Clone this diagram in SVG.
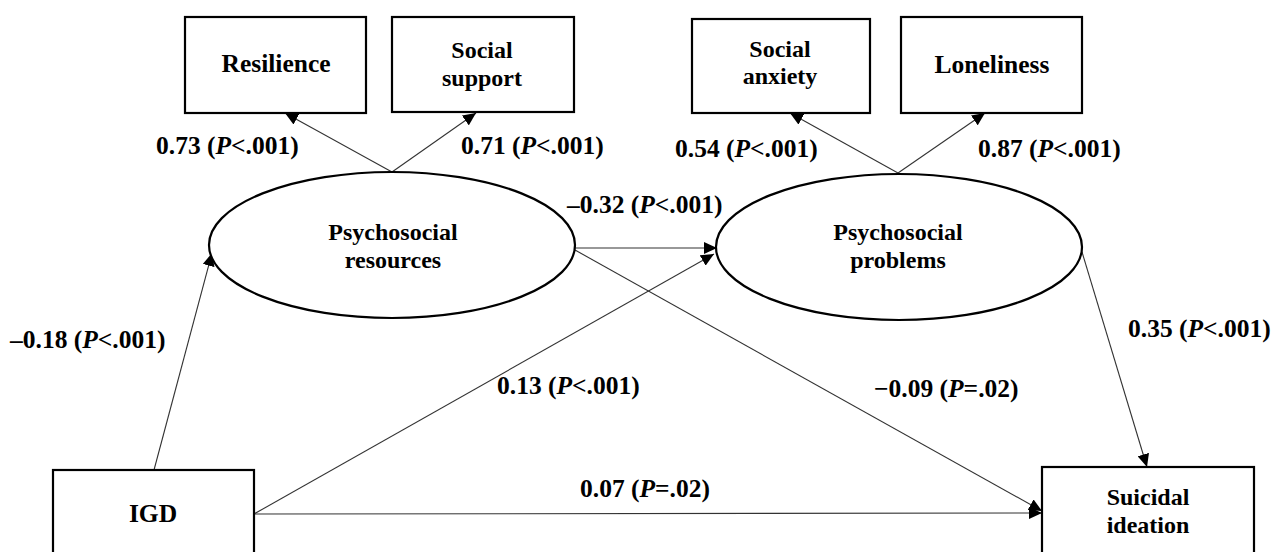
<svg xmlns="http://www.w3.org/2000/svg" width="1281" height="552" viewBox="0 0 1281 552">
<defs>
<marker id="arr" markerUnits="userSpaceOnUse" markerWidth="14" markerHeight="12" refX="13" refY="6" orient="auto">
<path d="M0,0 L13,6 L0,12 Z" fill="#000"/>
</marker>
<style>
.box{fill:#fff;stroke:#000;stroke-width:2.2}
.t{font-family:"Liberation Serif","Times New Roman",serif;font-weight:bold;font-size:25.5px;fill:#000}
.n{font-size:24px}
.c{text-anchor:middle}
.e{stroke:#333;stroke-width:1.1;fill:none;marker-end:url(#arr)}
</style>
</defs>
<rect width="1281" height="552" fill="#fff"/>
<g id="connectors">
<line class="e" x1="392" y1="172" x2="285" y2="113"/>
<line class="e" x1="392" y1="172" x2="476" y2="113"/>
<line class="e" x1="898" y1="173" x2="790" y2="113"/>
<line class="e" x1="898" y1="173" x2="985" y2="113"/>
<line class="e" x1="575" y1="248" x2="717" y2="248"/>
<line class="e" x1="575" y1="250" x2="1042" y2="511"/>
<line class="e" x1="254" y1="514" x2="714" y2="254"/>
<line class="e" x1="254" y1="514" x2="1042" y2="513"/>
<line class="e" x1="154" y1="470" x2="212" y2="253"/>
<line class="e" x1="1082" y1="252" x2="1147" y2="467"/>
</g>
<g id="resilience"><rect class="box" x="185" y="17" width="181" height="96"/><text class="t c" x="276" y="72">Resilience</text></g>
<g id="social-support"><rect class="box" x="392" y="17" width="182" height="95"/><text class="t n c" x="482" y="58">Social</text><text class="t n c" x="482" y="86">support</text></g>
<g id="social-anxiety"><rect class="box" x="692" y="19" width="178" height="94"/><text class="t n c" x="780" y="57">Social</text><text class="t n c" x="780" y="84">anxiety</text></g>
<g id="loneliness"><rect class="box" x="901" y="17" width="181" height="96"/><text class="t c" x="992" y="73">Loneliness</text></g>
<g id="psychosocial-resources"><ellipse class="box" cx="392" cy="245" rx="183" ry="73"/><text class="t n c" x="393" y="240">Psychosocial</text><text class="t n c" x="393" y="268">resources</text></g>
<g id="psychosocial-problems"><ellipse class="box" cx="899" cy="247" rx="183" ry="73"/><text class="t n c" x="898" y="240">Psychosocial</text><text class="t n c" x="898" y="268">problems</text></g>
<g id="igd"><rect class="box" x="53" y="470" width="201" height="90"/><text class="t c" x="153" y="522">IGD</text></g>
<g id="suicidal-ideation"><rect class="box" x="1042" y="467" width="212" height="95"/><text class="t n c" x="1148" y="505">Suicidal</text><text class="t n c" x="1148" y="533">ideation</text></g>
<g id="labels">
<text class="t" x="156" y="154">0.73 (<tspan font-style="italic">P</tspan>&lt;.001)</text>
<text class="t" x="461" y="154">0.71 (<tspan font-style="italic">P</tspan>&lt;.001)</text>
<text class="t" x="675" y="157">0.54 (<tspan font-style="italic">P</tspan>&lt;.001)</text>
<text class="t" x="978" y="157">0.87 (<tspan font-style="italic">P</tspan>&lt;.001)</text>
<text class="t" x="567" y="213">–0.32 (<tspan font-style="italic">P</tspan>&lt;.001)</text>
<text class="t" x="10" y="348">–0.18 (<tspan font-style="italic">P</tspan>&lt;.001)</text>
<text class="t" x="497" y="394">0.13 (<tspan font-style="italic">P</tspan>&lt;.001)</text>
<text class="t" x="874" y="397">−0.09 (<tspan font-style="italic">P</tspan>=.02)</text>
<text class="t" x="1128" y="337">0.35 (<tspan font-style="italic">P</tspan>&lt;.001)</text>
<text class="t" x="580" y="497">0.07 (<tspan font-style="italic">P</tspan>=.02)</text>
</g>
</svg>
